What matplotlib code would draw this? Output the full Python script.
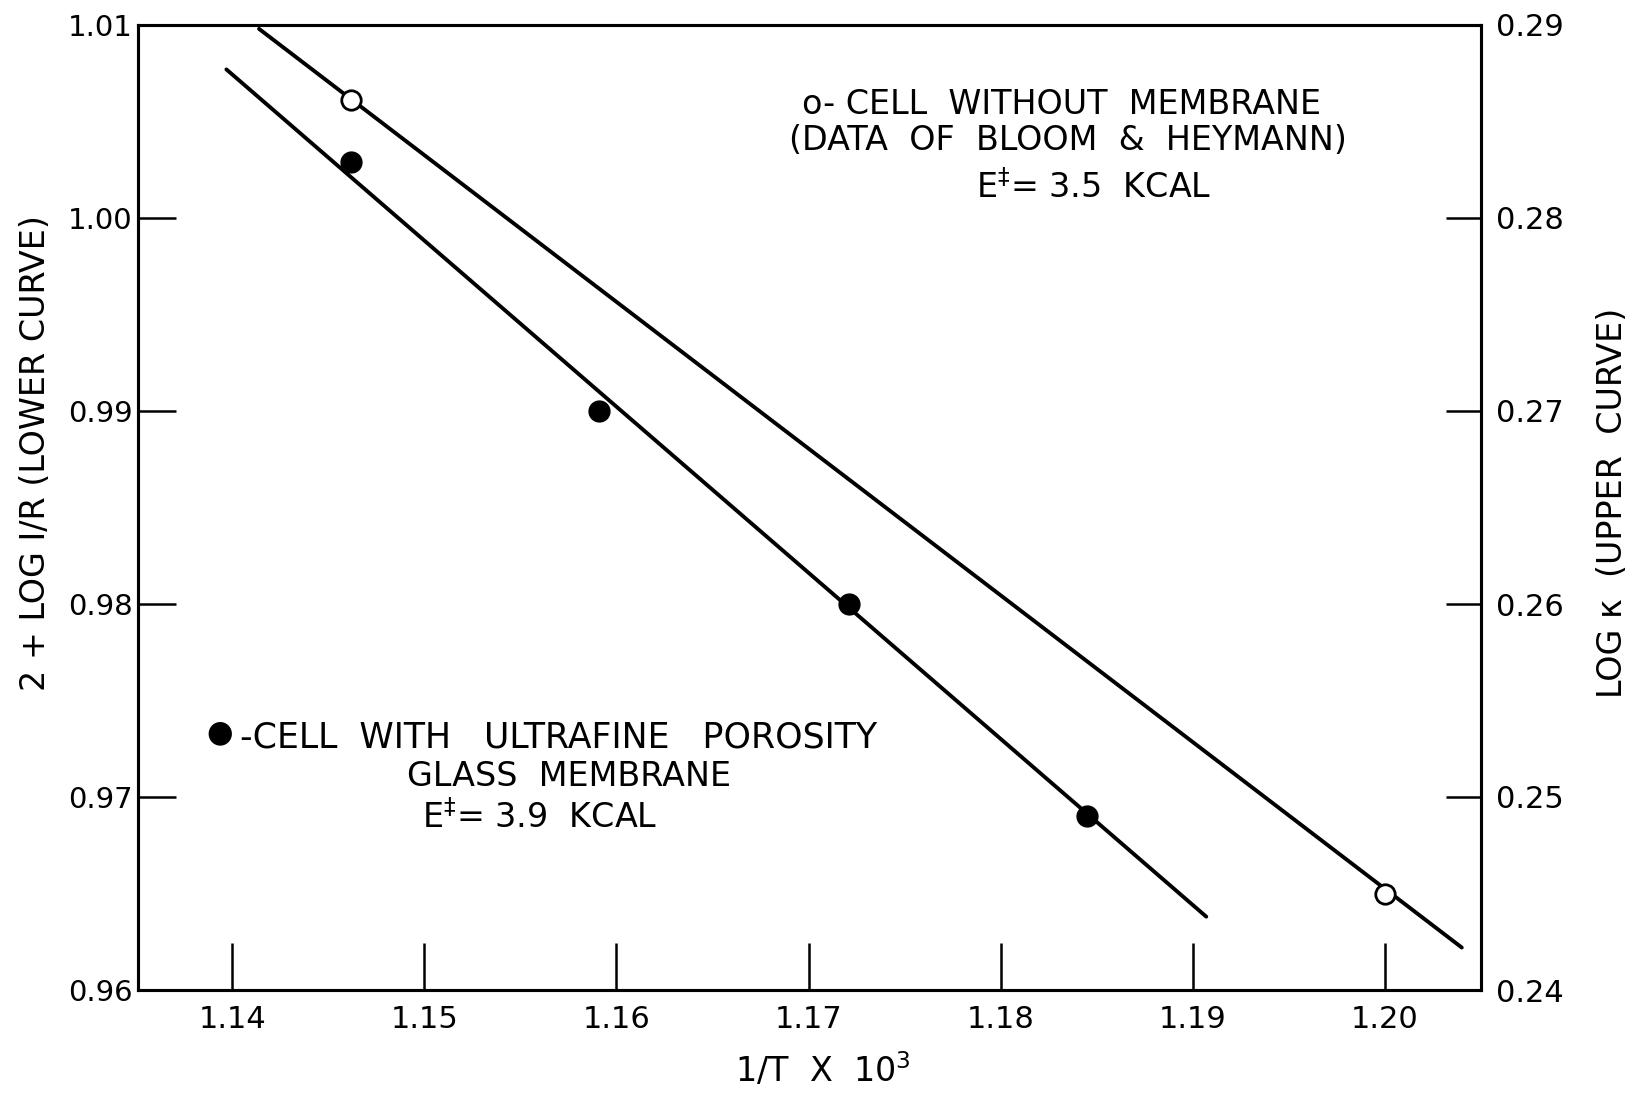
import numpy as np
import matplotlib
matplotlib.use("Agg")
import matplotlib.pyplot as plt

# Datos (curva inferior: eje izquierdo)
x_lower = [1.1462, 1.1591, 1.1721, 1.1845]
y_lower = [1.0029, 0.9900, 0.9800, 0.9690]

# Curva superior (eje derecho, log k)
x_upper = [1.1462, 1.2000]
y_upper = [0.2861, 0.2450]

# Extremos de las rectas trazadas a mano
fit_lower_x = [1.1397, 1.1907]
fit_lower_y = [1.0077, 0.9638]
fit_upper_x = [1.1414, 1.2040]
fit_upper_y = [0.2898, 0.2422]

x_ticks = [1.14, 1.15, 1.16, 1.17, 1.18, 1.19, 1.20]
x_tick_labels = ["1.14", "1.15", "1.16", "1.17", "1.18", "1.19", "1.20"]
y_left_ticks = [0.96, 0.97, 0.98, 0.99, 1.00, 1.01]
y_left_labels = ["0.96", "0.97", "0.98", "0.99", "1.00", "1.01"]
y_right_ticks = [0.24, 0.25, 0.26, 0.27, 0.28, 0.29]
y_right_labels = ["0.24", "0.25", "0.26", "0.27", "0.28", "0.29"]

W, H = 1634, 1097


def px(x, y):
    # Convierte pixeles de la imagen a fraccion de la figura
    return x / W, 1 - y / H


plt.rcParams['font.family'] = ['DejaVu Sans']

fig = plt.figure(figsize=(W / 100, H / 100), dpi=100)
ax = fig.add_axes([138 / W, 1 - 990 / H, (1481 - 138) / W, (990 - 25) / H])
ax2 = ax.twinx()

ax.set_xlim(1.1351, 1.2050)
ax.set_ylim(0.96, 1.01)
ax2.set_ylim(0.24, 0.29)

# Rectas y puntos
ax.plot(fit_lower_x, fit_lower_y, color="black", lw=2.8, solid_capstyle="round")
ax.plot(x_lower, y_lower, "o", color="black", ms=15, zorder=5)
ax2.plot(fit_upper_x, fit_upper_y, color="black", lw=2.8, solid_capstyle="round")
ax2.plot(x_upper, y_upper, "o", mfc="white", mec="black", mew=2, ms=14, zorder=5)

for a in (ax, ax2):
    for s in a.spines.values():
        s.set_linewidth(2.2)

ax.set_xticks(x_ticks)
ax.set_xticklabels(x_tick_labels)
ax.set_yticks(y_left_ticks)
ax.set_yticklabels(y_left_labels)
ax2.set_yticks(y_right_ticks)
ax2.set_yticklabels(y_right_labels)

ax.tick_params(axis="x", direction="in", length=34, width=1.8, labelsize=22, pad=11, top=False)
ax.tick_params(axis="y", direction="in", length=27, width=1.8, labelsize=21, pad=4)
ax2.tick_params(axis="y", direction="in", length=25, width=1.8, labelsize=22, pad=11)

# Etiquetas de ejes
fig.text(*px(36, 453), "2 + LOG I/R (LOWER CURVE)", rotation=90, ha="center", va="center", fontsize=24)
fig.text(*px(1612, 503), "LOG \u03ba  (UPPER  CURVE)", rotation=90, ha="center", va="center", fontsize=24)
fig.text(*px(823, 1070), "1/T  X  10$^{3}$", ha="center", va="center", fontsize=24)

# Leyendas escritas
fig.text(*px(802, 104), "o- CELL  WITHOUT  MEMBRANE", ha="left", va="center", fontsize=24)
fig.text(*px(789, 141), "(DATA  OF  BLOOM  &  HEYMANN)", ha="left", va="center", fontsize=24)
fig.text(*px(976, 188), "E$^{\\ddag}$= 3.5  KCAL", ha="left", va="center", fontsize=24)

fig.text(*px(206, 733), "\u25cf", ha="left", va="center", fontsize=22)
fig.text(*px(240, 737), "-CELL  WITH   ULTRAFINE   POROSITY", ha="left", va="center", fontsize=25)
fig.text(*px(407, 776), "GLASS  MEMBRANE", ha="left", va="center", fontsize=24)
fig.text(*px(422, 818), "E$^{\\ddag}$= 3.9  KCAL", ha="left", va="center", fontsize=24)

fig.savefig("out.png", dpi=100)
